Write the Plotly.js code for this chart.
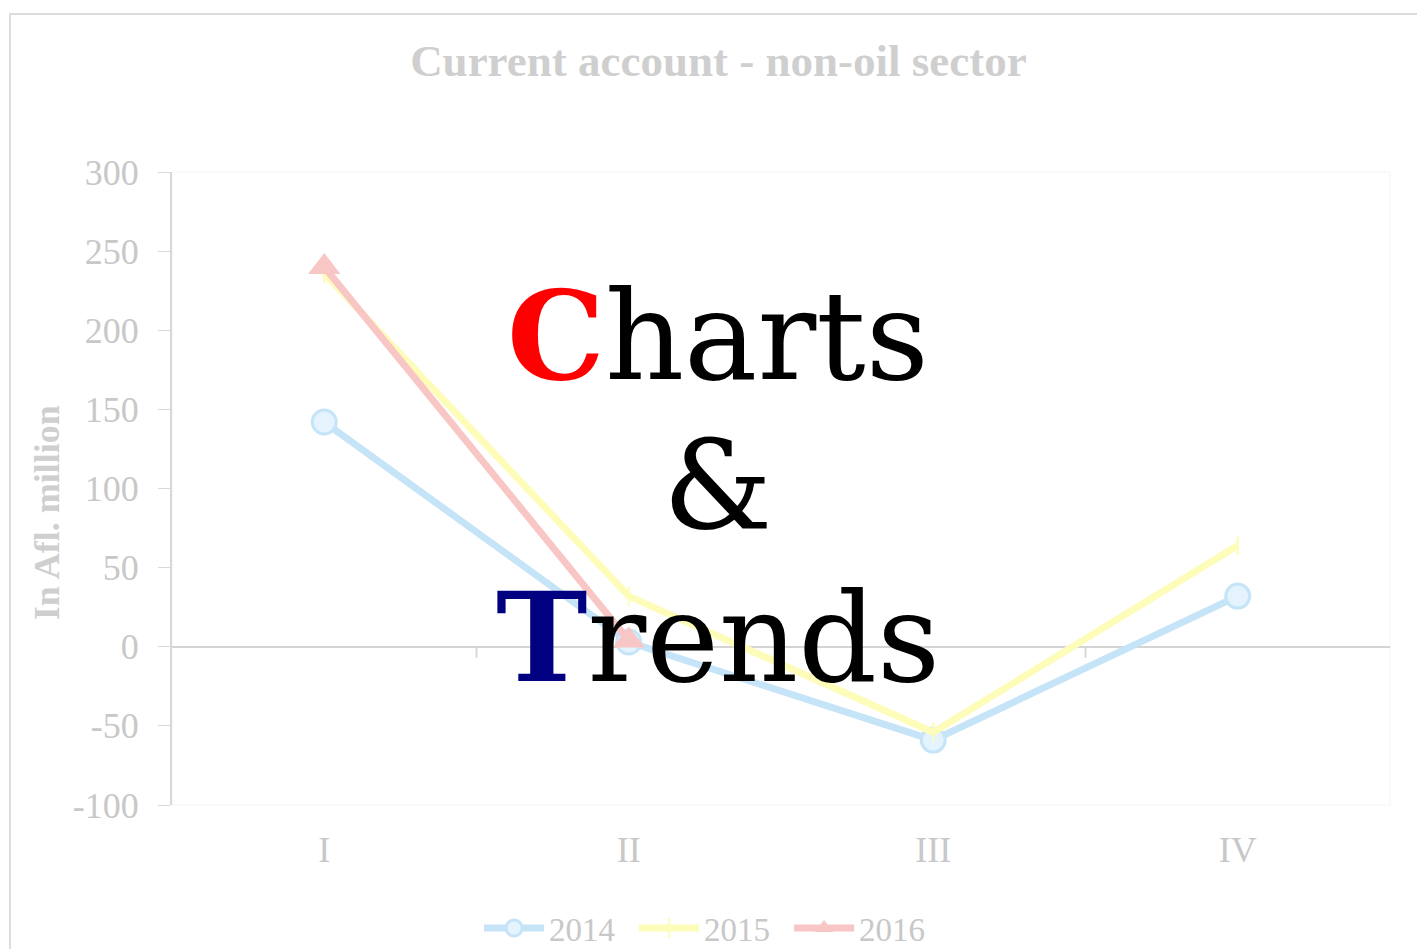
<!DOCTYPE html>
<html>
<head>
<meta charset="utf-8">
<script src="https://cdn.plot.ly/plotly-3.0.1.min.js"></script>
<style>
  body { margin: 0; background: #fff; }
  #chart { width: 1417px; height: 949px; }
</style>
</head>
<body>
<div id="chart"></div>
<script>
// kwartalen en waarden (Afl. miljoen)
var quarters = ['I', 'II', 'III', 'IV'];
var v2014 = [142, 3, -59, 32];
var v2015 = [236, 32, -54, 64];
var v2016 = [240, 4];
var yTicks = [-100, -50, 0, 50, 100, 150, 200, 250, 300];
var yTickText = ['-100', '-50', '0', '50', '100', '150', '200', '250', '300'];
var boundaries = [0.5, 1.5, 2.5];

var CHART = document.getElementById('chart');

var data = [
    {
        x: quarters, y: v2014, name: '2014',
        type: 'scatter', mode: 'lines+markers',
        line: { color: '#c6e4f8', width: 7 },
        marker: { symbol: 'circle', size: 24, color: '#e4f3fd', line: { color: '#c6e4f8', width: 3 } }
    },
    {
        x: quarters, y: v2015, name: '2015',
        type: 'scatter', mode: 'lines+markers',
        line: { color: '#fdfcb8', width: 7 },
        marker: { symbol: 'line-ns', size: 14, color: '#fdfcb8', line: { color: '#fdfcb8', width: 2 } }
    },
    {
        x: quarters.slice(0, 2), y: v2016, name: '2016',
        type: 'scatter', mode: 'lines+markers',
        line: { color: '#f9c6c6', width: 7 },
        marker: { symbol: 'triangle-up', size: 28, color: '#f9c6c6' }
    }
];

var grey = '#c8c8c8';
var serif = 'Liberation Serif, Times New Roman, serif';

// kleine streepjes op de nullijn tussen de kwartalen
var shapes = [
    { type: 'rect', xref: 'paper', yref: 'paper', x0: -0.133, x1: 1.1, y0: -0.4, y1: 1.2496,
      line: { color: '#dcdcdc', width: 2 }, layer: 'below' },
    { type: 'rect', xref: 'paper', yref: 'paper', x0: 0, x1: 1, y0: 0, y1: 1,
      line: { color: '#f4f4f4', width: 1 }, layer: 'below' }
];
boundaries.forEach(function (b) {
    shapes.push({ type: 'line', xref: 'x', yref: 'y', x0: b, x1: b, y0: 0, y1: -7,
                  line: { color: '#d8d8d8', width: 2 }, layer: 'below' });
});

var overlayFont = { family: 'DejaVu Serif, serif', size: 123, color: '#000' };

var layout = {
    width: 1417, height: 949,
    margin: { l: 172, r: 27, t: 172, b: 144 },
    paper_bgcolor: '#fff', plot_bgcolor: '#fff',
    font: { family: serif, color: grey, size: 30 },
    showlegend: true,
    title: {
        text: '<b>Current account - non-oil sector</b>',
        font: { family: serif, size: 45, color: '#cfcfcf' },
        x: 0.507, xanchor: 'center', y: 0.936, yanchor: 'middle'
    },
    xaxis: {
        type: 'category', range: [-0.5, 3.5],
        showgrid: false, showline: false, zeroline: false,
        ticks: '', ticklabelstandoff: 20,
        tickfont: { family: serif, size: 36, color: grey }
    },
    yaxis: {
        range: [-100, 300], tickvals: yTicks, ticktext: yTickText,
        showgrid: false, showline: true, linecolor: '#d8d8d8', linewidth: 2,
        ticks: 'outside', ticklen: 12, tickcolor: '#d8d8d8', ticklabelstandoff: 12,
        zeroline: true, zerolinecolor: '#d4d4d4', zerolinewidth: 2,
        tickfont: { family: serif, size: 36, color: grey }
    },
    legend: {
        orientation: 'h', x: 0.443, xanchor: 'center',
        yref: 'container', y: 0.022, yanchor: 'middle',
        font: { family: serif, size: 33, color: grey },
        itemwidth: 60, entrywidth: 80
    },
    shapes: shapes,
    annotations: [
        { xref: 'paper', yref: 'paper', x: -0.1026, y: 0.461, xanchor: 'center', yanchor: 'middle',
          showarrow: false, textangle: -90,
          text: '<b>In Afl. million</b>', font: { family: serif, size: 36, color: '#cfcfcf' } },
        { xref: 'paper', yref: 'paper', x: 0.448, y: 0.741, xanchor: 'center', yanchor: 'middle', showarrow: false,
          text: '<b><span style="color:#ff0000">C</span></b>harts', font: overlayFont },
        { xref: 'paper', yref: 'paper', x: 0.448, y: 0.504, xanchor: 'center', yanchor: 'middle', showarrow: false,
          text: '&', font: overlayFont },
        { xref: 'paper', yref: 'paper', x: 0.448, y: 0.264, xanchor: 'center', yanchor: 'middle', showarrow: false,
          text: '<b><span style="color:#000080">T</span></b>rends', font: overlayFont }
    ]
};

Plotly.newPlot(CHART, data, layout, { displayModeBar: false, staticPlot: true });
</script>
</body>
</html>
